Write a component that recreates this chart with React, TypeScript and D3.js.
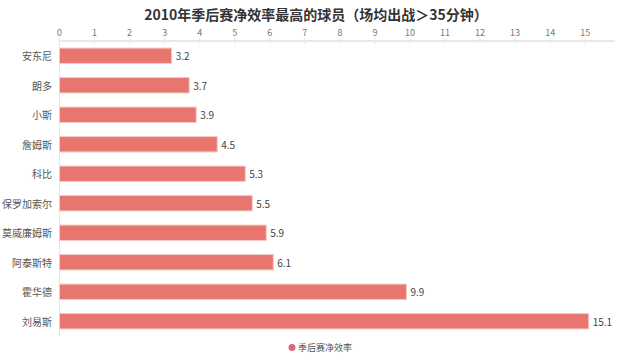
import React from "react";
import * as d3 from "d3";

const title = "2010年季后赛净效率最高的球员（场均出战＞35分钟）";
const players = ["安东尼", "朗多", "小斯", "詹姆斯", "科比", "保罗加索尔", "莫威廉姆斯", "阿泰斯特", "霍华德", "刘易斯"];
const netRating = [3.2, 3.7, 3.9, 4.5, 5.3, 5.5, 5.9, 6.1, 9.9, 15.1];
const xTicks = [0, 1, 2, 3, 4, 5, 6, 7, 8, 9, 10, 11, 12, 13, 14, 15];
const seriesName = "季后赛净效率";

const W = 640;
const H = 362;
const left = 59.5;
const right = 615;
const top = 41;
const bottom = 336;
const font = "'Noto Sans CJK SC', 'Noto Sans', sans-serif";

export default function App() {
  const x = d3.scaleLinear().domain([0, 15.85]).range([left, right]);
  const y = d3.scaleBand<string>().domain(players).range([top, bottom]).paddingInner(0.48).paddingOuter(0.24);
  return (
    <svg width={W} height={H} style={{ position: "absolute", left: 0, top: 0, background: "#fff" }}>
      <text x={316} y={20} textAnchor="middle" fontFamily={font} fontSize={14} fontWeight="bold" fill="#333">
        {title}
      </text>
      {/* top axis */}
      <line x1={left} x2={right} y1={top} y2={top} stroke="#e0e0e0" strokeWidth={1.5} />
      {xTicks.map((t) => (
        <g key={t}>
          <line x1={x(t)} x2={x(t)} y1={top - 3} y2={top + 3} stroke="#e6e6e6" />
          <text x={x(t)} y={36} textAnchor="middle" fontFamily={font} fontSize={9} fill="#777">
            {t}
          </text>
        </g>
      ))}
      {/* left axis */}
      <line x1={left} x2={left} y1={top} y2={bottom} stroke="#e6e6e6" />
      {players.map((p, i) => {
        const yy = y(p)!;
        const bh = y.bandwidth();
        return (
          <g key={p}>
            <text x={52} y={yy + bh / 2} textAnchor="end" dominantBaseline="central" fontFamily={font} fontSize={10} fill="#555">
              {p}
            </text>
            <rect x={x(0)} y={yy} width={x(netRating[i]) - x(0)} height={bh} fill="#e8766f" stroke="#f2c9c3" strokeWidth={1} />
            <text x={x(netRating[i]) + 4} y={yy + bh / 2} dominantBaseline="central" fontFamily={font} fontSize={10} fill="#444">
              {netRating[i]}
            </text>
          </g>
        );
      })}
      {/* legend */}
      <circle cx={292} cy={347.5} r={3.5} fill="#dc6680" />
      <text x={298} y={347.5} dominantBaseline="central" fontFamily={font} fontSize={9} fill="#555">
        {seriesName}
      </text>
    </svg>
  );
}
